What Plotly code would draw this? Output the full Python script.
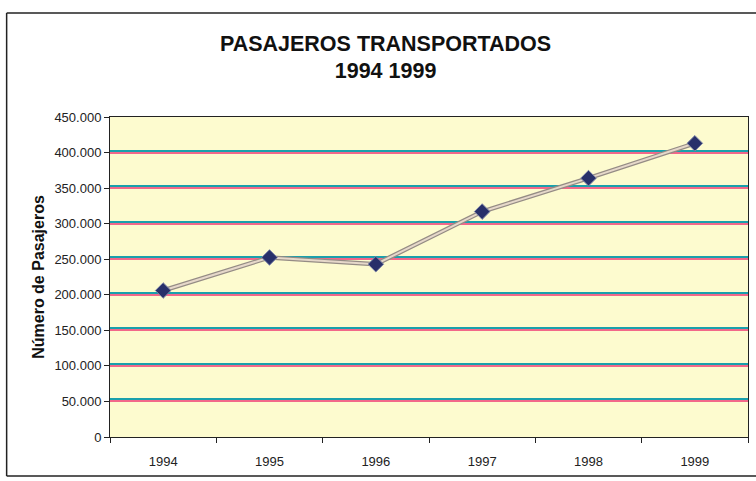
import plotly.graph_objects as go

# Pasajeros transportados por año
years = ["1994", "1995", "1996", "1997", "1998", "1999"]
pasajeros = [206000, 252500, 243000, 317000, 364000, 413000]

y_ticks = [0, 50000, 100000, 150000, 200000, 250000, 300000, 350000, 400000, 450000]

font_main = "Liberation Sans, Arial, sans-serif"

fig = go.Figure()

# darker edge of the series line
fig.add_trace(go.Scatter(
    x=years, y=pasajeros, mode="lines",
    line=dict(color="#958c85", width=4.5),
    hoverinfo="skip", showlegend=False,
))
# lighter core of the series line, with diamond markers
fig.add_trace(go.Scatter(
    x=years, y=pasajeros, mode="lines+markers",
    line=dict(color="#e6d8ca", width=2),
    marker=dict(symbol="diamond", size=12, color="#28306a",
                line=dict(color="#7f86a8", width=1)),
    showlegend=False,
))
# companion axis carrying the second tone of the gridlines
fig.add_trace(go.Scatter(
    x=years, y=pasajeros, yaxis="y2", mode="lines",
    line=dict(color="rgba(0,0,0,0)"), hoverinfo="skip", showlegend=False,
))

border = dict(color="#222222", width=1.5)
top_edge = 1.325
bottom_edge = -0.122
left_edge = -0.162
grid_shift = 2812.5  # two pixels of the value axis

fig.update_layout(
    width=756, height=481,
    margin=dict(l=110, r=8, t=117, b=44),
    paper_bgcolor="#ffffff",
    plot_bgcolor="#fdfbcf",
    separators=",.",
    font=dict(family=font_main, size=13, color="#222222"),
    title=dict(
        text="<b>PASAJEROS TRANSPORTADOS</b><br><b>1994 1999</b>",
        x=0.51, xanchor="center", y=0.895, yanchor="top",
        font=dict(family=font_main, size=21.5, color="#111111"),
    ),
    xaxis=dict(
        type="category", range=[-0.5, 5.5],
        tickson="boundaries", ticks="outside", ticklen=5, tickcolor="#222",
        ticklabelstandoff=12,
        showline=True, linecolor="#222", linewidth=1, mirror=True,
        showgrid=False, tickfont=dict(size=13),
    ),
    yaxis=dict(
        range=[0, 450000], tickvals=y_ticks, tickformat=",d",
        ticks="outside", ticklen=5, tickcolor="#222",
        showline=True, linecolor="#222", linewidth=1, mirror=True,
        showgrid=True, gridcolor="#f2688a", gridwidth=1.6,
        zeroline=False, tickfont=dict(size=13),
        title=dict(text="<b>Número de Pasajeros</b>", standoff=5,
                   font=dict(size=16, color="#111111")),
    ),
    yaxis2=dict(
        overlaying="y", range=[-grid_shift, 450000 - grid_shift],
        tickvals=y_ticks[1:],
        showticklabels=False, showline=False, zeroline=False,
        showgrid=True, gridcolor="#1aa0ac", gridwidth=1.6,
    ),
    shapes=[
        dict(type="line", xref="paper", yref="paper",
             x0=left_edge, x1=1.02, y0=top_edge, y1=top_edge, line=border),
        dict(type="line", xref="paper", yref="paper",
             x0=left_edge, x1=1.02, y0=bottom_edge, y1=bottom_edge, line=border),
        dict(type="line", xref="paper", yref="paper",
             x0=left_edge, x1=left_edge, y0=bottom_edge, y1=top_edge, line=border),
    ],
)

fig.write_html("out.html")
